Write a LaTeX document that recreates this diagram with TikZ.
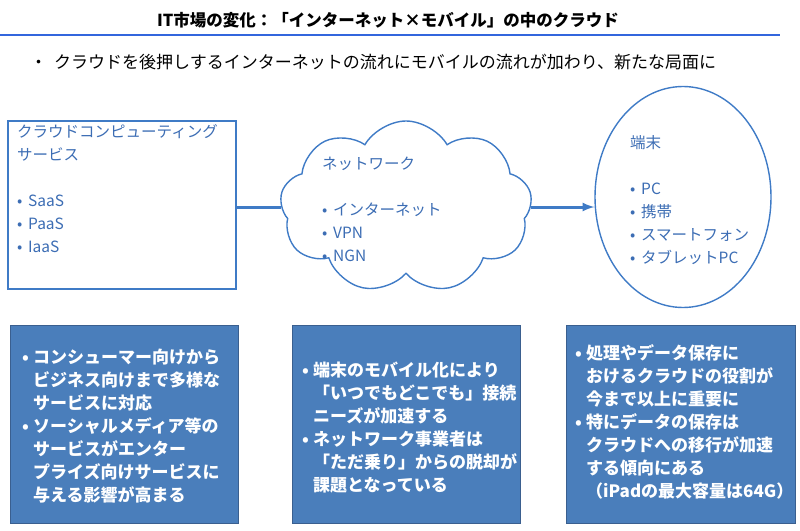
\documentclass[tikz,border=0pt]{standalone}
\usepackage{fontspec}
\setmainfont{Noto Sans CJK JP}
\usetikzlibrary{shapes}
\usetikzlibrary{shapes.geometric}
\usetikzlibrary{shapes.symbols}
\usetikzlibrary{arrows}

\definecolor{lineblue}{HTML}{3F7BC6}
\definecolor{textblue}{HTML}{3C6DB4}
\definecolor{boxfill}{HTML}{4A7EBB}
\definecolor{boxedge}{HTML}{3A5F8F}
\definecolor{rule}{HTML}{3366DD}

\newcommand{\bul}{\makebox[11pt][l]{•}}
\newcommand{\ind}{\hspace*{11pt}}

\begin{document}
\begin{tikzpicture}[x=1pt,y=-1pt]
	\tikzstyle{shapeline}=[draw=lineblue,line width=1.4pt]
	\tikzstyle{shapetext}=[anchor=north west,inner sep=0,align=left,text=textblue,font=\fontsize{15.5}{23}\selectfont]
	\tikzstyle{panel}=[rectangle,draw=boxedge,line width=1pt,fill=boxfill,inner sep=0]
	\tikzstyle{paneltext}=[anchor=north west,inner sep=0,align=left,text=white,font=\fontsize{17}{23}\selectfont\bfseries]
	\tikzstyle{link}=[draw=lineblue,line width=3pt]
	
	\useasboundingbox (0,0) rectangle (800,530);
	
	% heading
	\node[font=\fontsize{16.5}{18}\selectfont\bfseries](title) at (388,20){IT市場の変化：「インターネット×モバイル」の中のクラウド};
	\draw[rule,line width=2pt] (0,35) -- (780,35);
	\node[anchor=west,inner sep=0,font=\fontsize{17}{20}\selectfont](lead) at (30,62){・\hspace*{7pt}クラウドを後押しするインターネットの流れにモバイルの流れが加わり、新たな局面に};
	
	% upper row
	\node[shapeline,rectangle,minimum width=228pt,minimum height=168pt,inner sep=0](svc) at (122,205){};
	\node[shapeline,cloud,cloud puffs=9,cloud puff arc=120,aspect=1.4,minimum width=252pt,minimum height=172pt,inner sep=0](net) at (406,207){};
	\node[shapeline,ellipse,minimum width=176pt,minimum height=221pt,inner sep=0](term) at (683,197){};
	
	\node[shapetext](svctext) at (17,121.5){\strut クラウドコンピューティング\\サービス\\[23pt]\bul SaaS\\\bul PaaS\\\bul IaaS};
	\node[shapetext](nettext) at (322,152.8){\strut ネットワーク\\[23pt]\bul インターネット\\\bul VPN\\\bul NGN};
	\node[shapetext](termtext) at (630,131.8){\strut 端末\\[23pt]\bul PC\\\bul 携帯\\\bul スマートフォン\\\bul タブレットPC};
	
	\draw[link] (svc.east |- net.west) -- (net.west);
	\draw[link,-latex] (net.east) -- (term.west |- net.east);
	
	% lower row
	\node[panel,minimum width=228pt,minimum height=198pt](svcbox) at (124,424){};
	\node[panel,minimum width=228pt,minimum height=198pt](netbox) at (406,424){};
	\node[panel,minimum width=229pt,minimum height=198pt](termbox) at (680.5,424){};
	
	\node[paneltext](svcnote) at (22,347.4){\strut\bul コンシューマー向けから\\\ind ビジネス向けまで多様な\\\ind サービスに対応\\\bul ソーシャルメディア等の\\\ind サービスがエンター\\\ind プライズ向けサービスに\\\ind 与える影響が高まる};
	\node[paneltext](netnote) at (302,360.4){\strut\bul 端末のモバイル化により\\\ind 「いつでもどこでも」接続\\\ind ニーズが加速する\\\bul ネットワーク事業者は\\\ind 「ただ乗り」からの脱却が\\\ind 課題となっている};
	\node[paneltext](termnote) at (575,343.4){\strut\bul 処理やデータ保存に\\\ind おけるクラウドの役割が\\\ind 今まで以上に重要に\\\bul 特にデータの保存は\\\ind クラウドへの移行が加速\\\ind する傾向にある\\\ind （iPadの最大容量は64G）};
\end{tikzpicture}
\end{document}
